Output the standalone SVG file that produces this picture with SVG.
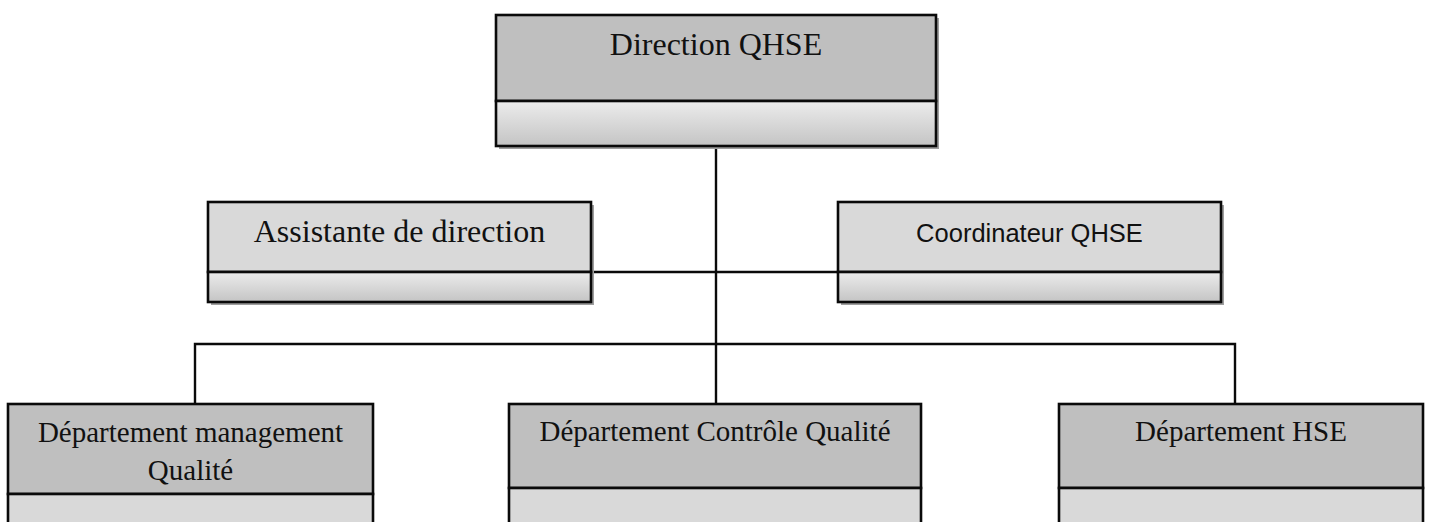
<svg xmlns="http://www.w3.org/2000/svg" width="1429" height="522" viewBox="0 0 1429 522">
<style>
.box{stroke:#0a0a0a;stroke-width:2.6}
.sh{fill:#9e9e9e}
.dark{fill:#bfbfbf}
.light{fill:#d9d9d9}
.conn{stroke:#0a0a0a;stroke-width:2.4;fill:none}
.serif{font-family:"Liberation Serif","Times New Roman",serif;fill:#111;text-anchor:middle}
.sans{font-family:"Liberation Sans",Arial,sans-serif;fill:#111;text-anchor:middle}
</style>
<defs>
<linearGradient id="strip" x1="0" y1="0" x2="0" y2="1">
<stop offset="0" stop-color="#ececec"/>
<stop offset="1" stop-color="#c4c4c4"/>
</linearGradient>
</defs>
<rect width="1429" height="522" fill="#fff"/>
<g id="connectors">
<line class="conn" x1="716" y1="146" x2="716" y2="404"/>
<line class="conn" x1="591" y1="272" x2="838" y2="272"/>
<polyline class="conn" points="195,404 195,344 1235,344 1235,404"/>
</g>
<g id="direction">
<rect class="sh" x="499" y="18" width="440" height="131"/>
<rect class="box dark" x="496" y="15" width="440" height="86"/>
<rect class="box" fill="url(#strip)" x="496" y="101" width="440" height="45"/>
<text class="serif" x="716" y="55" font-size="32">Direction QHSE</text>
</g>
<g id="assistante">
<rect class="sh" x="211" y="205" width="383" height="100"/>
<rect class="box light" x="208" y="202" width="383" height="70"/>
<rect class="box" fill="url(#strip)" x="208" y="272" width="383" height="30"/>
<text class="serif" x="399.5" y="242" font-size="32">Assistante de direction</text>
</g>
<g id="coordinateur">
<rect class="sh" x="841" y="205" width="383" height="100"/>
<rect class="box light" x="838" y="202" width="383" height="70"/>
<rect class="box" fill="url(#strip)" x="838" y="272" width="383" height="30"/>
<text class="sans" x="1029.5" y="242" font-size="25.5">Coordinateur QHSE</text>
</g>
<g id="dep-management">
<rect class="box dark" x="8" y="404" width="365" height="90"/>
<rect class="box light" x="8" y="494" width="365" height="40"/>
<text class="serif" x="190.5" y="442" font-size="29">Département management</text>
<text class="serif" x="190.5" y="480" font-size="29">Qualité</text>
</g>
<g id="dep-controle">
<rect class="box dark" x="509" y="404" width="412" height="84"/>
<rect class="box light" x="509" y="488" width="412" height="46"/>
<text class="serif" x="715" y="441" font-size="29">Département Contrôle Qualité</text>
</g>
<g id="dep-hse">
<rect class="box dark" x="1059" y="404" width="364" height="84"/>
<rect class="box light" x="1059" y="488" width="364" height="46"/>
<text class="serif" x="1241" y="441" font-size="29">Département HSE</text>
</g>
</svg>
